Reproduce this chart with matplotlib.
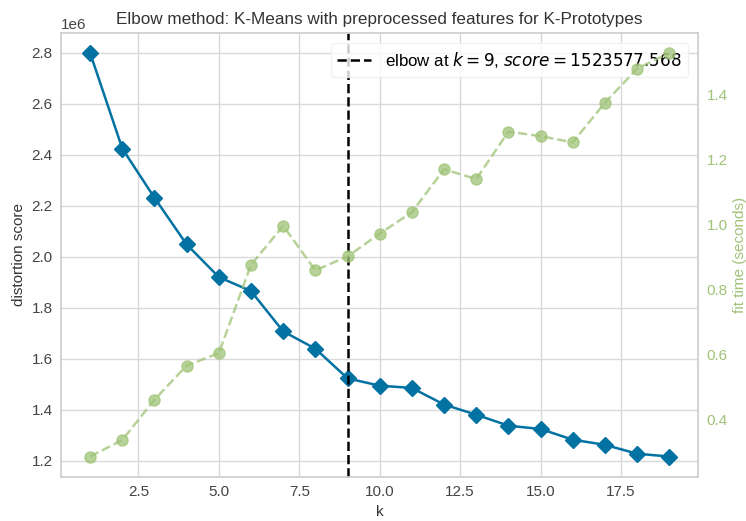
import numpy as np
import matplotlib
matplotlib.use("Agg")
import matplotlib.pyplot as plt

# ============================================================
#  Data
# ============================================================
k_values = list(range(1, 20))
distortion = [2.800e6, 2.425e6, 2.232e6, 2.049e6, 1.921e6, 1.866e6, 1.708e6,
              1.640e6, 1523577.568, 1.495e6, 1.486e6, 1.421e6, 1.381e6,
              1.338e6, 1.325e6, 1.283e6, 1.263e6, 1.228e6, 1.217e6]
fit_time = [0.285, 0.336, 0.460, 0.565, 0.603, 0.875, 0.995, 0.858, 0.901,
            0.971, 1.037, 1.169, 1.139, 1.285, 1.271, 1.252, 1.374, 1.479,
            1.527]
elbow_k = 9
elbow_score = 1523577.568

# yellowbrick-ish palette
blue = "#0272a2"
green = "#9fc377"

plt.rcParams["font.family"] = ["Liberation Sans", "DejaVu Sans"]
plt.rcParams["axes.edgecolor"] = "#cccccc"
plt.rcParams["axes.linewidth"] = 1.2
plt.rcParams["grid.color"] = "#d9d9d9"
plt.rcParams["grid.linewidth"] = 1.0
plt.rcParams["xtick.color"] = "#444444"
plt.rcParams["ytick.color"] = "#444444"
plt.rcParams["xtick.major.size"] = 0
plt.rcParams["ytick.major.size"] = 0
plt.rcParams["xtick.major.pad"] = 6
plt.rcParams["ytick.major.pad"] = 6
plt.rcParams["axes.labelcolor"] = "#333333"

fig, ax = plt.subplots(figsize=(7.46, 5.21), dpi=100)

ax.plot(k_values, distortion, marker="D", color=blue, lw=1.8, ms=8)
ax.axvline(elbow_k, color="k", ls="--", lw=1.8,
           label=f"elbow at $k={elbow_k}$, $score={elbow_score:0.3f}$")
ax.grid(True)
ax.set_axisbelow(True)
ax.set_title("Elbow method: K-Means with preprocessed features for K-Prototypes",
             fontsize=12.3, color="#333333")
ax.set_xlabel("k", fontsize=11)
ax.set_ylabel("distortion score", fontsize=11)
ax.tick_params(labelsize=11)
ax.yaxis.get_offset_text().set_fontsize(11)
ax.legend(loc="upper right", fontsize=12.2, frameon=True, framealpha=0.8,
          edgecolor="#eeeeee", borderaxespad=0.6)

ax2 = ax.twinx()
ax2.plot(k_values, fit_time, marker="o", color=green, ls="--", lw=1.8, ms=8,
         alpha=0.75)
ax2.grid(False)
ax2.set_ylabel("fit time (seconds)", color=green, fontsize=11)
ax2.tick_params(axis="y", colors=green, labelsize=11)
for side in ax2.spines:
    ax2.spines[side].set_visible(False)

fig.subplots_adjust(left=0.082, right=0.936, top=0.937, bottom=0.085)
fig.savefig("out.png", dpi=100)
